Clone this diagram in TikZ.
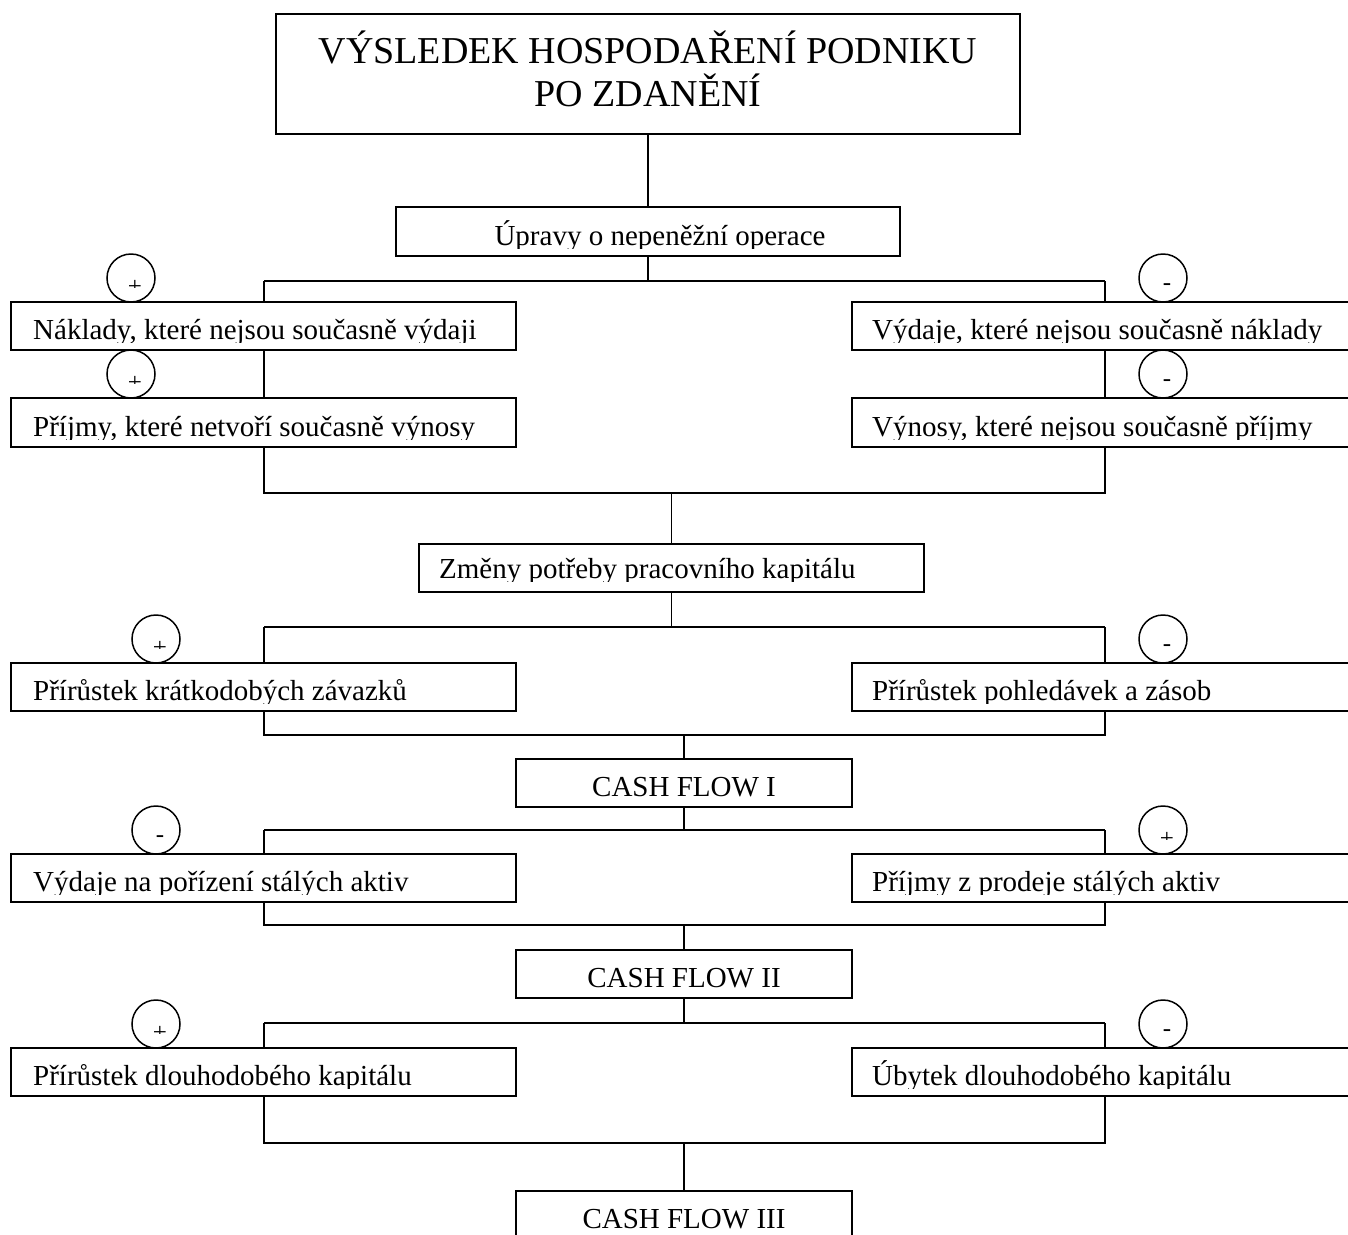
\documentclass[tikz,border=0pt]{standalone}
\usepackage{fontspec}
\setmainfont{Liberation Serif}
\newcommand\btxt[5]{\begin{scope}\clip (0,#3-70) rectangle (1400,#3+3);\node[txt,anchor=#4] (#1) at (#2,#3) {#5};\end{scope}}
\newcommand\plusc[3]{\node[sgn] (#1) at (#2,#3) {};
  \begin{scope}\clip (#2-24,#3-24) rectangle (#2+24,#3+9.7);\node[sgntxt] (#1s) at (#2+4,#3+9) {+};\end{scope}}
\newcommand\minusc[3]{\node[sgn] (#1) at (#2,#3) {};
  \node[sgntxt] (#1s) at (#2+4,#3+9) {-};}
\begin{document}
\begin{tikzpicture}[x=1pt,y=-1pt,
  ln/.style={line width=1.8pt},
  boxn/.style={draw, line width=1.8pt, rectangle, inner sep=0pt, outer sep=0pt, anchor=north west},
  txt/.style={inner sep=0pt, font=\fontsize{29}{35}\selectfont},
  sgn/.style={circle, draw, line width=1.5pt, minimum size=48pt, inner sep=0pt},
  sgntxt/.style={inner sep=0pt, font=\fontsize{25}{30}\selectfont}]
\path[use as bounding box, clip] (0,0) rectangle (1348,1234);
% boxes
\node[boxn, minimum width=744pt, minimum height=120pt] (title) at (276,14) {};
\node[align=center, inner sep=0pt, font=\fontsize{38}{43}\selectfont] (titletxt) at (648,69) {VÝSLEDEK HOSPODAŘENÍ PODNIKU\\PO ZDANĚNÍ};
\node[boxn, minimum width=504pt, minimum height=49pt] (upr) at (396,207) {};
\node[boxn, minimum width=505pt, minimum height=48pt] (L1) at (11,302) {};
\node[boxn, minimum width=505pt, minimum height=49pt] (L2) at (11,398) {};
\node[boxn, minimum width=500pt, minimum height=48pt] (R1) at (852,302) {};
\node[boxn, minimum width=500pt, minimum height=49pt] (R2) at (852,398) {};
\node[boxn, minimum width=505pt, minimum height=48pt] (zm) at (419,544) {};
\node[boxn, minimum width=505pt, minimum height=48pt] (L3) at (11,663) {};
\node[boxn, minimum width=500pt, minimum height=48pt] (R3) at (852,663) {};
\node[boxn, minimum width=336pt, minimum height=48pt] (cf1) at (516,759) {};
\node[boxn, minimum width=505pt, minimum height=48pt] (L4) at (11,854) {};
\node[boxn, minimum width=500pt, minimum height=48pt] (R4) at (852,854) {};
\node[boxn, minimum width=336pt, minimum height=48pt] (cf2) at (516,950) {};
\node[boxn, minimum width=505pt, minimum height=48pt] (L5) at (11,1048) {};
\node[boxn, minimum width=500pt, minimum height=48pt] (R5) at (852,1048) {};
\node[boxn, minimum width=336pt, minimum height=60pt] (cf3) at (516,1191) {};
% texts
\btxt{tupr}{660}{245}{base}{Úpravy o nepeněžní operace}
\btxt{tL1}{33}{339}{base west}{Náklady, které nejsou současně výdaji}
\btxt{tL2}{33}{436}{base west}{Příjmy, které netvoří současně výnosy}
\btxt{tR1}{872}{339}{base west}{Výdaje, které nejsou současně náklady}
\btxt{tR2}{872}{436}{base west}{Výnosy, které nejsou současně příjmy}
\btxt{tzm}{439}{578}{base west}{Změny potřeby pracovního kapitálu}
\btxt{tL3}{33}{700}{base west}{Přírůstek krátkodobých závazků}
\btxt{tR3}{872}{700}{base west}{Přírůstek pohledávek a zásob}
\btxt{tcf1}{684}{796}{base}{CASH FLOW I}
\btxt{tL4}{33}{891}{base west}{Výdaje na pořízení stálých aktiv}
\btxt{tR4}{872}{891}{base west}{Příjmy z prodeje stálých aktiv}
\btxt{tcf2}{684}{987}{base}{CASH FLOW II}
\btxt{tL5}{33}{1085}{base west}{Přírůstek dlouhodobého kapitálu}
\btxt{tR5}{872}{1085}{base west}{Úbytek dlouhodobého kapitálu}
\btxt{tcf3}{684}{1228}{base}{CASH FLOW III}
% signs
\plusc{c1}{131}{278}
\plusc{c2}{131}{374}
\minusc{c3}{1163}{278}
\minusc{c4}{1163}{374}
\plusc{c5}{156}{639}
\minusc{c6}{1163}{639}
\minusc{c7}{156}{830}
\plusc{c8}{1163}{830}
\plusc{c9}{156}{1024}
\minusc{c10}{1163}{1024}
% junctions
\coordinate (j1l) at (264,281); \coordinate (j1r) at (1105,281);
\coordinate (j2l) at (264,493); \coordinate (j2r) at (1105,493);
\coordinate (j3l) at (264,627); \coordinate (j3r) at (1105,627);
\coordinate (j4l) at (264,735); \coordinate (j4r) at (1105,735);
\coordinate (j5l) at (264,830); \coordinate (j5r) at (1105,830);
\coordinate (j6l) at (264,925); \coordinate (j6r) at (1105,925);
\coordinate (j7l) at (264,1023); \coordinate (j7r) at (1105,1023);
\coordinate (j8l) at (264,1143); \coordinate (j8r) at (1105,1143);
% connectors
\draw[ln] (title.south) -- (upr.north);
\draw[ln] (upr.south) -- (upr.south |- j1l);
\draw[ln] (j1l) -- (j1r);
\draw[ln] (j1l) -- (j1l |- L1.north);
\draw[ln] (j1r) -- (j1r |- R1.north);
\draw[ln] (L1.south -| j1l) -- (L2.north -| j1l);
\draw[ln] (R1.south -| j1r) -- (R2.north -| j1r);
\draw[ln] (L2.south -| j2l) -- (j2l) -- (j2r) -- (R2.south -| j2r);
\draw[ln] (zm.north) -- (zm.north |- j2l);
\draw[ln] (zm.south) -- (zm.south |- j3l);
\draw[ln] (j3l) -- (j3r);
\draw[ln] (j3l) -- (j3l |- L3.north);
\draw[ln] (j3r) -- (j3r |- R3.north);
\draw[ln] (L3.south -| j4l) -- (j4l) -- (j4r) -- (R3.south -| j4r);
\draw[ln] (cf1.north) -- (cf1.north |- j4l);
\draw[ln] (cf1.south) -- (cf1.south |- j5l);
\draw[ln] (j5l) -- (j5r);
\draw[ln] (j5l) -- (j5l |- L4.north);
\draw[ln] (j5r) -- (j5r |- R4.north);
\draw[ln] (L4.south -| j6l) -- (j6l) -- (j6r) -- (R4.south -| j6r);
\draw[ln] (cf2.north) -- (cf2.north |- j6l);
\draw[ln] (cf2.south) -- (cf2.south |- j7l);
\draw[ln] (j7l) -- (j7r);
\draw[ln] (j7l) -- (j7l |- L5.north);
\draw[ln] (j7r) -- (j7r |- R5.north);
\draw[ln] (L5.south -| j8l) -- (j8l) -- (j8r) -- (R5.south -| j8r);
\draw[ln] (cf3.north) -- (cf3.north |- j8l);
\end{tikzpicture}
\end{document}
